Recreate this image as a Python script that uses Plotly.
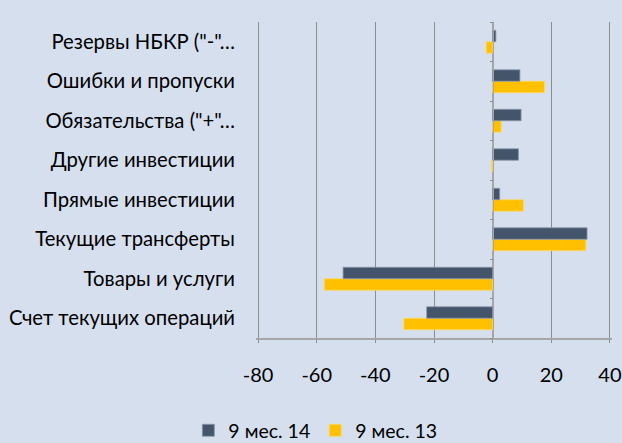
import plotly.graph_objects as go

categories = [
    "Счет текущих операций",
    "Товары и услуги",
    "Текущие трансферты",
    "Прямые инвестиции",
    "Другие инвестиции",
    "Обязательства (\"+\"…",
    "Ошибки и пропуски",
    "Резервы НБКР (\"-\"…",
]
series_names = ["9 мес. 14", "9 мес. 13"]
values_14 = [-22.5, -51.0, 32.2, 2.4, 8.8, 9.7, 9.3, 1.1]
values_13 = [-30.3, -57.4, 31.8, 10.5, -0.4, 2.9, 17.7, -2.2]
x_ticks = [-80, -60, -40, -20, 0, 20, 40]

BG = "#D5DFEE"
DARK = "#44546A"
YELLOW = "#FFC000"
GRID = "#8C8C8C"
FONT = "Lato"
X_MIN, X_MAX = -80.7, 40.7

fig = go.Figure()
# yellow first so that the dark bar sits above it inside each group
fig.add_trace(go.Bar(
    y=categories, x=values_13, name=series_names[1], orientation="h",
    marker=dict(color=YELLOW, line=dict(color="#FFD966", width=0.8)),
))
fig.add_trace(go.Bar(
    y=categories, x=values_14, name=series_names[0], orientation="h",
    marker=dict(color=DARK, line=dict(color="#8A97AA", width=0.8)),
))
# invisible trace to draw the category tick marks at x = 0
fig.add_trace(go.Scatter(
    y=categories, x=[0] * len(categories), yaxis="y2", mode="markers",
    marker=dict(opacity=0), showlegend=False, hoverinfo="skip",
))

fig.update_layout(
    width=622, height=443,
    paper_bgcolor=BG, plot_bgcolor=BG,
    margin=dict(l=256, r=10, t=22, b=105, autoexpand=False),
    barmode="group", bargap=0.42, bargroupgap=0,
    font=dict(family=FONT, size=19, color="#000000"),
    legend=dict(
        orientation="h", x=0.507, xanchor="center", xref="container",
        y=0.028, yanchor="middle", yref="container", traceorder="reversed",
        font=dict(family=FONT, size=19.5), itemwidth=30,
        bgcolor="rgba(0,0,0,0)",
    ),
    xaxis=dict(
        range=[X_MIN, X_MAX], tickvals=x_ticks, ticktext=[str(v) for v in x_ticks],
        showgrid=True, gridcolor=GRID, gridwidth=1,
        zeroline=True, zerolinecolor="#A6A6A6", zerolinewidth=1,
        showline=True, linecolor="#A6A6A6", linewidth=1.5,
        ticks="outside", ticklen=3, tickcolor=GRID,
        tickfont=dict(family=FONT, size=20), ticklabelstandoff=15,
        automargin=False,
    ),
    yaxis=dict(
        categoryorder="array", categoryarray=categories,
        showgrid=False, zeroline=False, ticks="", showline=False,
        tickfont=dict(family=FONT, size=20.3), ticklabelstandoff=20,
        automargin=False,
    ),
    yaxis2=dict(
        overlaying="y", anchor="free", position=-X_MIN / (X_MAX - X_MIN), matches="y",
        showticklabels=False, showgrid=False, zeroline=False,
        showline=True, linecolor="#A6A6A6", linewidth=1,
        ticks="outside", ticklen=3, tickcolor=GRID, tickson="boundaries",
        categoryorder="array", categoryarray=categories, automargin=False,
    ),
)

fig.write_html(
    "out.html",
    config={"displayModeBar": False},
    post_script="document.body.style.margin='0';document.body.style.overflow='hidden';",
)
